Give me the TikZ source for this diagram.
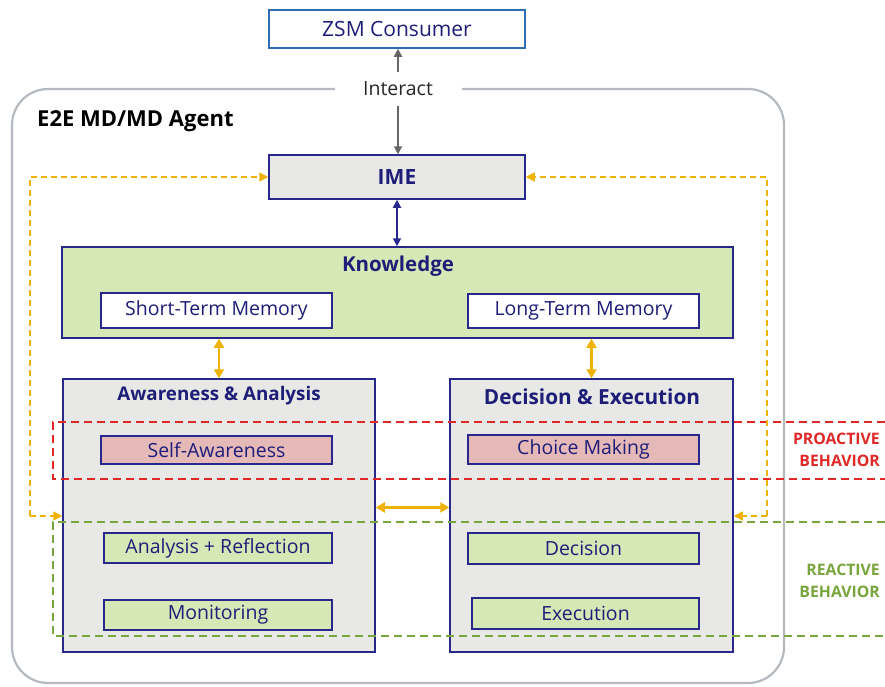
\documentclass[tikz,border=0pt]{standalone}
\usepackage{fontspec}
\setmainfont{Open Sans}
\usetikzlibrary{arrows.meta,calc}
\definecolor{navy}{HTML}{1E1E78}
\definecolor{bnavy}{HTML}{27278C}
\definecolor{zblue}{HTML}{2E6DB4}
\definecolor{gfill}{HTML}{E8E8E6}
\definecolor{lgreen}{HTML}{D5E8B5}
\definecolor{pink}{HTML}{E6B9B9}
\definecolor{orng}{HTML}{EEB300}
\definecolor{rdash}{HTML}{E02828}
\definecolor{gdash}{HTML}{78A53C}
\definecolor{outer}{HTML}{B4BAC0}
\definecolor{garrow}{HTML}{666666}
\tikzset{
  box/.style={draw=bnavy,line width=1.5pt,text=navy,inner sep=0pt},
  inbox/.style={box,font=\fontsize{19.5}{22}\selectfont},
  orngarrow/.style={orng,line width=2.2pt,{Triangle[length=9pt,width=10pt]}-{Triangle[length=9pt,width=10pt]}},
  fbarrow/.style={orng,line width=1.6pt,dash pattern=on 6pt off 4pt,-{Triangle[length=9pt,width=9pt]}},
  reddash/.style={rdash,line width=1.8pt,dash pattern=on 8pt off 5pt},
  grndash/.style={gdash,line width=1.8pt,dash pattern=on 8pt off 5pt},
  grarrow/.style={garrow,line width=1.8pt,-{Triangle[length=8pt,width=8pt]}},
}
\begin{document}
\begin{tikzpicture}[x=1pt,y=-1pt]
\useasboundingbox (0,0) rectangle (885,686);
% outer agent frame
\coordinate (og1) at (335,89);
\coordinate (og2) at (462,89);
\draw[outer,line width=2.2pt,rounded corners=36pt] (og1) -- (12,89) -- (12,683) -- (784,683) -- (784,89) -- (og2);
\node[anchor=west,font=\bfseries\fontsize{22}{25}\selectfont,text=black,inner sep=0pt] (agent) at (37,121) {E2E MD/MD Agent};
% ZSM consumer
\node[draw=zblue,line width=1.5pt,fill=white,text=navy,minimum width=256pt,minimum height=38pt,font=\fontsize{21}{24}\selectfont] (zsm) at (397,29) {ZSM Consumer};
\node[font=\fontsize{19.5}{22}\selectfont,text=black!85,minimum height=34pt,inner sep=0pt] (interact) at (398,89) {Interact};
% IME
\node[box,fill=gfill,minimum width=256pt,minimum height=44pt,font=\bfseries\fontsize{21}{24}\selectfont] (ime) at (397,177) {IME};
% Knowledge
\node[box,fill=lgreen,minimum width=671pt,minimum height=91pt] (know) at (397.5,292.5) {};
\node[text=navy,font=\bfseries\fontsize{20.5}{23}\selectfont] (knowt) at (398,266) {Knowledge};
% lower boxes
\node[box,fill=gfill,minimum width=312pt,minimum height=273pt] (aa) at (219,515.5) {};
\node[box,fill=gfill,minimum width=283pt,minimum height=273pt] (de) at (591.5,515.5) {};
\node[text=navy,font=\bfseries\fontsize{18.8}{21}\selectfont] (aat) at (219,396) {Awareness \& Analysis};
\node[text=navy,font=\bfseries\fontsize{20.8}{24}\selectfont] (det) at (592,397) {Decision \& Execution};
% dashed regions
\coordinate (r1) at (885,422); \coordinate (r2) at (53,422);
\coordinate (r3) at (53,479); \coordinate (r4) at (885,479);
\draw[reddash] (r1) -- (r2) -- (r3) -- (r4);
\coordinate (g1) at (885,522); \coordinate (g2) at (53,522);
\coordinate (g3) at (53,636); \coordinate (g4) at (885,636);
\draw[grndash] (g1) -- (g2) -- (g3) -- (g4);
\node[anchor=east,align=right,text=rdash,font=\bfseries\fontsize{15.8}{22}\selectfont,inner sep=0pt] (pro) at (880,450) {PROACTIVE\\BEHAVIOR};
\node[anchor=east,align=right,text=gdash,font=\bfseries\fontsize{15.8}{22}\selectfont,inner sep=0pt] (rea) at (880,581) {REACTIVE\\BEHAVIOR};
% inner boxes
\node[inbox,fill=white,minimum width=231pt,minimum height=35pt] (stm) at (216.5,310.5) {Short-Term Memory};
\node[inbox,fill=white,minimum width=231pt,minimum height=34pt] (ltm) at (583.5,311) {Long-Term Memory};
\node[inbox,fill=pink,minimum width=231pt,minimum height=28pt] (sa) at (216.5,450) {Self-Awareness};
\node[inbox,fill=lgreen,minimum width=228pt,minimum height=30pt] (ar) at (218,548) {Analysis + Reflection};
\node[inbox,fill=lgreen,minimum width=228pt,minimum height=30pt] (mon) at (218,615) {Monitoring};
\node[inbox,fill=pink,minimum width=231pt,minimum height=29pt] (cm) at (583.5,449.5) {Choice Making};
\node[inbox,fill=lgreen,minimum width=231pt,minimum height=31pt] (dec) at (583.5,548.5) {Decision};
\node[inbox,fill=lgreen,minimum width=227pt,minimum height=31pt] (exe) at (585.5,613.5) {Execution};
% arrows
\draw[grarrow] (interact.north) -- (interact.north |- zsm.south);
\draw[grarrow] (interact.south) -- (interact.south |- ime.north);
\draw[bnavy,line width=1.8pt,{Triangle[length=8pt,width=8pt]}-{Triangle[length=8pt,width=8pt]}] (ime.south) -- (know.north -| ime.south);
\draw[orngarrow] (know.south -| aa.north) -- (aa.north);
\draw[orngarrow] (know.south -| de.north) -- (de.north);
\draw[orngarrow] ([yshift=8pt]aa.east) -- ([yshift=8pt]aa.east -| de.west);
% feedback loops
\coordinate (fl1) at (30,177); \coordinate (fl2) at (30,516);
\coordinate (fr1) at (767,177); \coordinate (fr2) at (767,516);
\draw[fbarrow] (fl2) -- (fl1) -- (ime.west);
\draw[fbarrow] (fl2) -- ([yshift=-0.5pt]aa.west);
\draw[fbarrow] (fr2) -- (fr1) -- (ime.east);
\draw[fbarrow] (fr2) -- ([yshift=-0.5pt]de.east);
\end{tikzpicture}
\end{document}
